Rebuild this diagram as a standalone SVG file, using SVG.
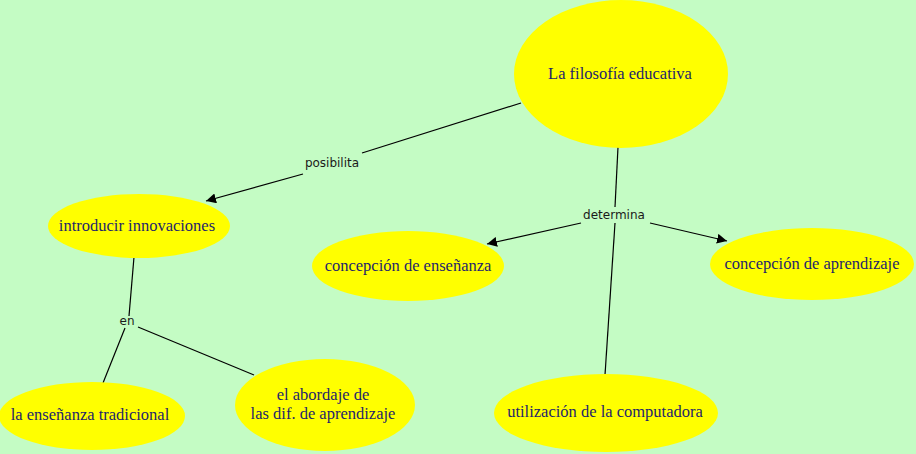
<svg xmlns="http://www.w3.org/2000/svg" width="916" height="454" viewBox="0 0 916 454">
<defs>
<marker id="arr" viewBox="0 0 10 10" refX="10" refY="5" markerWidth="10" markerHeight="10" markerUnits="userSpaceOnUse" orient="auto"><path d="M0,0 L10,5 L0,10 z" fill="#000"/></marker>
<style>
.n{fill:#ffff00;}
.t{font-family:"Liberation Serif","DejaVu Serif",serif;font-size:16.5px;fill:#1f1f6b;text-anchor:middle;dominant-baseline:central;}
.c{stroke:#000;stroke-width:1.2;fill:none;}
.l{font-family:"DejaVu Sans","Liberation Sans",sans-serif;font-size:12px;fill:#1a1a1a;text-anchor:middle;dominant-baseline:central;}
</style>
</defs>
<rect width="916" height="454" fill="#c4fcc4"/>
<g id="connectors">
<line class="c" x1="521" y1="103" x2="362" y2="153"/>
<line class="c" x1="303" y1="174" x2="206" y2="201" marker-end="url(#arr)"/>
<text class="l" x="332" y="163">posibilita</text>
<line class="c" x1="618" y1="147" x2="615" y2="207"/>
<line class="c" x1="615" y1="223" x2="605" y2="375"/>
<line class="c" x1="581" y1="223" x2="487" y2="244" marker-end="url(#arr)"/>
<line class="c" x1="650" y1="223" x2="727" y2="241" marker-end="url(#arr)"/>
<text class="l" x="614" y="215">determina</text>
<line class="c" x1="134" y1="257" x2="129" y2="316"/>
<line class="c" x1="125" y1="328" x2="103" y2="383"/>
<line class="c" x1="138" y1="327" x2="254" y2="375"/>
<text class="l" x="127" y="321">en</text>
</g>
<g id="n1"><ellipse class="n" cx="621" cy="74" rx="107" ry="74"/><text class="t" x="620" y="73">La filosofía educativa</text></g>
<g id="n2"><ellipse class="n" cx="139" cy="226" rx="91" ry="32"/><text class="t" x="137" y="225">introducir innovaciones</text></g>
<g id="n3"><ellipse class="n" cx="408" cy="266" rx="96" ry="35"/><text class="t" x="408" y="265">concepción de enseñanza</text></g>
<g id="n4"><ellipse class="n" cx="812" cy="264" rx="102" ry="36"/><text class="t" x="812" y="263">concepción de aprendizaje</text></g>
<g id="n5"><ellipse class="n" cx="92" cy="416" rx="93" ry="34"/><text class="t" x="90" y="414">la enseñanza tradicional</text></g>
<g id="n6"><ellipse class="n" cx="325" cy="405" rx="90" ry="46"/><text class="t" x="323" y="394">el abordaje de</text><text class="t" x="323" y="413">las dif. de aprendizaje</text></g>
<g id="n7"><ellipse class="n" cx="606" cy="413" rx="112" ry="39"/><text class="t" x="605" y="411">utilización de la computadora</text></g>
</svg>
